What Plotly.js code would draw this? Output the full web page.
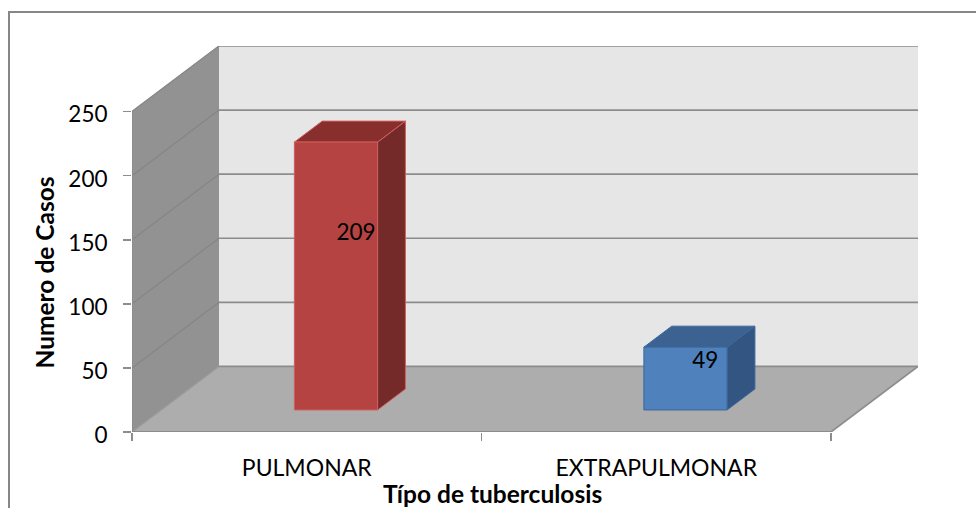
<!DOCTYPE html>
<html><head><meta charset="utf-8">
<script src="https://cdn.plot.ly/plotly-3.0.1.min.js"></script>
<style>html,body{margin:0;padding:0;background:#fff;overflow:hidden}#c{width:976px;height:508px}</style>
</head><body><div id="c"></div>
<script>
const categories = ["PULMONAR", "EXTRAPULMONAR"];
const values = [209, 49];
const yTicks = [0, 50, 100, 150, 200, 250];
const xBoundaries = [0, 1, 2];
const xCenters = [0.5, 1.5];
const yTitle = "Numero de Casos";
const xTitle = "Típo de tuberculosis";
const labelOffsetX = [0.141, 0.1405];
const labelValueY = [154, 54];

const frontColors = ["#b44342", "#4f81bd"];
const edgeColors = ["#cf5e5c", "#3b679b"];
const topColors = ["#882f2e", "#3b6291"];
const sideColors = ["#732a28", "#325582"];

// oblique projection: depth 0 (front) to 1 (back wall), in axis units
const DX = 87 / 349.5, DY = 65.5 / 1.28;
const D0 = 0.336, D1 = 0.656, HALF = 0.119;
const maxY = yTicks[yTicks.length - 1], maxX = xBoundaries[xBoundaries.length - 1];
const P = (x, y, d) => [x + d * DX, y + d * DY];

function poly(pts, fill, lineColor, lineWidth) {
  const c = pts.concat([pts[0]]);
  return { x: c.map(p => p[0]), y: c.map(p => p[1]), type: "scatter", mode: "lines", fill: "toself",
    fillcolor: fill, line: { color: lineColor || fill, width: lineWidth === undefined ? 0 : lineWidth },
    hoverinfo: "skip", showlegend: false };
}
function seg(a, b, color, width) {
  return { x: [a[0], b[0]], y: [a[1], b[1]], type: "scatter", mode: "lines", line: { color, width },
    hoverinfo: "skip", showlegend: false };
}

const traces = [];
traces.push(poly([P(0,0,0), P(0,0,1), P(0,maxY,1), P(0,maxY,0)], "#929292"));
traces.push(poly([P(0,0,1), P(maxX,0,1), P(maxX,maxY,1), P(0,maxY,1)], "#e6e6e6"));
yTicks.forEach(v => {
  if (v > 0) traces.push(seg(P(0,v,0), P(0,v,1), "#858585", 1.2));
  if (v > 0) traces.push(seg(P(0,v,1), P(maxX,v,1), "#8c8c8c", 1.6));
});
traces.push(poly([P(0,0,0), P(maxX,0,0), P(maxX,0,1), P(0,0,1)], "#adadad"));
traces.push(seg(P(0,0,0), P(0,0,1), "#9a9a9a", 1.2));
traces.push(seg(P(0,0,1), P(maxX,0,1), "#8c8c8c", 1.6));
traces.push(seg(P(maxX,0,0), P(maxX,0,1), "#8c8c8c", 1.6));
traces.push(seg(P(0,0,0), P(maxX,0,0), "#8c8c8c", 2));
traces.push(seg(P(0,0,0), P(0,maxY,0), "#8c8c8c", 1.6));
traces.push(seg(P(0,maxY,1), P(0,maxY,0), "#8c8c8c", 1.2));

values.forEach((v, i) => {
  const l = xCenters[i] - HALF, r = xCenters[i] + HALF;
  traces.push(poly([P(r,0,D0), P(r,0,D1), P(r,v,D1), P(r,v,D0)], sideColors[i], edgeColors[i], 1));
  traces.push(poly([P(l,v,D0), P(r,v,D0), P(r,v,D1), P(l,v,D1)], topColors[i], edgeColors[i], 1));
  traces.push(poly([P(l,0,D0), P(r,0,D0), P(r,v,D0), P(l,v,D0)], frontColors[i], edgeColors[i], 1));
});

const F = "Lato, Carlito, sans-serif";
traces.push({
  x: xCenters.map((c, i) => c + labelOffsetX[i]), y: labelValueY,
  text: values.map(String), type: "scatter", mode: "text", textposition: "middle center",
  textfont: { family: F, size: 22.5, color: "#000" },
  hoverinfo: "skip", showlegend: false
});
// keeps the second x axis (boundary ticks) alive
traces.push({ x: [0], y: [0], xaxis: "x2", type: "scatter", mode: "markers", marker: { opacity: 0 }, hoverinfo: "skip", showlegend: false });

const layout = {
  width: 976, height: 508, autosize: false,
  margin: { l: 132, r: 58, t: 46, b: 76, pad: 0 },
  paper_bgcolor: "#fff", plot_bgcolor: "rgba(0,0,0,0)",
  showlegend: false, dragmode: false,
  xaxis: { range: [0, maxX + DX], tickmode: "array", tickvals: xCenters, ticktext: categories,
    ticks: "outside", ticklen: 15, tickcolor: "rgba(0,0,0,0)", showgrid: false, zeroline: false, showline: false,
    tickfont: { family: F, size: 23, color: "#000" } },
  xaxis2: { range: [0, maxX + DX], overlaying: "x", side: "bottom", anchor: "y", tickmode: "array", tickvals: xBoundaries,
    ticks: "outside", ticklen: 8, tickwidth: 1.5, tickcolor: "#8c8c8c", showticklabels: false, showgrid: false, zeroline: false, showline: false },
  yaxis: { range: [0, maxY + DY], tickmode: "array", tickvals: yTicks, ticks: "outside", ticklen: 8, tickwidth: 1.6, tickcolor: "#8c8c8c",
    showgrid: false, zeroline: false, showline: false, ticklabelstandoff: 11, ticklabelshift: 3,
    tickfont: { family: F, size: 22.5, color: "#000" } },
  annotations: [
    { text: "<b>" + xTitle + "</b>", xref: "paper", yref: "paper", x: (492.5 - 132) / 786, y: (432 - 493) / 386,
      xanchor: "center", yanchor: "middle", showarrow: false, font: { family: F, size: 24.5, color: "#000" } },
    { text: "<b>" + yTitle + "</b>", xref: "paper", yref: "paper", x: (44 - 132) / 786, y: (432 - 272.5) / 386,
      xanchor: "center", yanchor: "middle", textangle: -90, showarrow: false, font: { family: F, size: 24.5, color: "#000" } }
  ],
  shapes: [{ type: "rect", xref: "paper", yref: "paper", x0: (9 - 132) / 786, x1: 1.2, y0: -0.3, y1: (432 - 12) / 386,
    line: { color: "#878787", width: 2 }, fillcolor: "rgba(0,0,0,0)", layer: "below" }]
};
Plotly.newPlot("c", traces, layout, { displayModeBar: false, staticPlot: true });
</script></body></html>
